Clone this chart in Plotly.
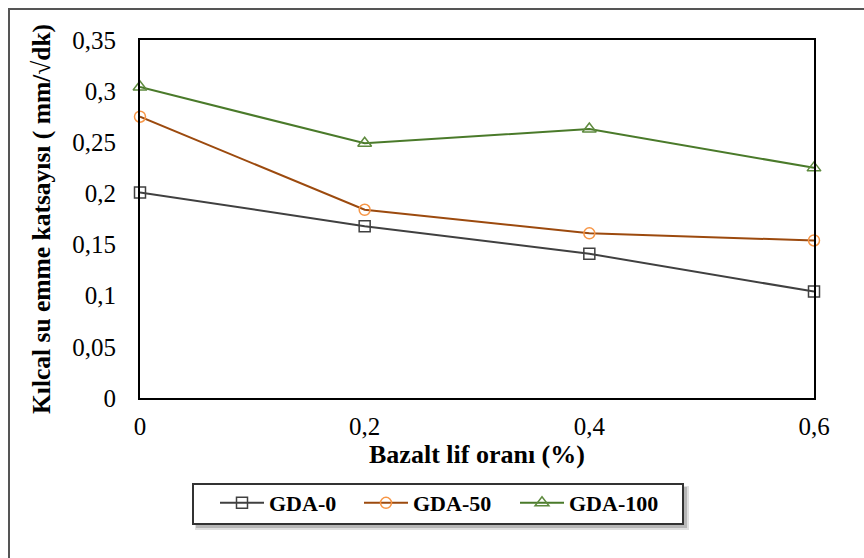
import plotly.graph_objects as go

fiber = [0, 0.2, 0.4, 0.6]
gda0 = [0.201, 0.168, 0.141, 0.104]
gda50 = [0.275, 0.184, 0.161, 0.154]
gda100 = [0.304, 0.249, 0.263, 0.225]

series = [
    ("GDA-0", gda0, "#404040", "#404040", "square-open", 11, "legend", 223),
    ("GDA-50", gda50, "#9C4A0E", "#F79646", "circle-open", 11, "legend2", 367),
    ("GDA-100", gda100, "#4A7A2A", "#5E8A3E", "triangle-up-open", 12, "legend3", 523),
]

W, H = 864, 558
L, R, T, B = 140, 50, 40, 160
pw, ph = W - L - R, H - T - B

def px(x):
    return (x - L) / pw

def py(y):
    return (H - B - y) / ph

fig = go.Figure()
legends = {}
for name, vals, lc, mc, sym, sz, lg, lx in series:
    fig.add_trace(go.Scatter(
        x=fiber, y=vals, name=name, mode="lines+markers",
        line=dict(color=lc, width=2),
        marker=dict(symbol=sym, size=sz, color=mc, line=dict(width=1.5, color=mc)),
        cliponaxis=False, legend=lg,
    ))
    legends[lg] = dict(
        orientation="h", x=px(lx - 8), xanchor="left", y=py(482), yanchor="top",
        borderwidth=0, bgcolor="rgba(0,0,0,0)",
        font=dict(size=22, family="Liberation Serif", weight="bold"),
        itemwidth=44,
    )

fig.update_layout(
    width=W, height=H,
    margin=dict(l=L, r=R, t=T, b=B),
    paper_bgcolor="white", plot_bgcolor="white",
    separators=",.",
    font=dict(family="Liberation Serif", color="black", size=22),
    showlegend=True,
    **legends,
    xaxis=dict(
        range=[0, 0.6], dtick=0.2, tick0=0, showgrid=False, zeroline=False,
        showline=True, mirror=True, linecolor="black", linewidth=2,
        ticks="", ticklabelstandoff=5,
        tickfont=dict(size=25),
        title=dict(text="Bazalt lif oranı (%)", font=dict(size=26, weight="bold"), standoff=3),
    ),
    yaxis=dict(
        range=[0, 0.35], dtick=0.05, tick0=0, showgrid=False, zeroline=False,
        showline=True, mirror=True, linecolor="black", linewidth=2,
        ticks="", ticklabelstandoff=17,
        tickfont=dict(size=25),
        title=dict(text="Kılcal su emme katsayısı ( mm/√dk)", font=dict(size=25.5, weight="bold"), standoff=14),
    ),
    shapes=[
        dict(type="rect", xref="paper", yref="paper",
             x0=px(9), x1=px(880), y0=py(575), y1=py(9),
             line=dict(color="#555555", width=2), fillcolor="rgba(0,0,0,0)", layer="below"),
        dict(type="rect", xref="paper", yref="paper",
             x0=px(195), x1=px(689), y0=py(530), y1=py(486),
             line=dict(width=0), fillcolor="rgba(0,0,0,0.12)", layer="above"),
        dict(type="rect", xref="paper", yref="paper",
             x0=px(196), x1=px(687), y0=py(528), y1=py(487),
             line=dict(width=0), fillcolor="rgba(0,0,0,0.18)", layer="above"),
        dict(type="rect", xref="paper", yref="paper",
             x0=px(193), x1=px(683), y0=py(524), y1=py(484),
             line=dict(color="#333333", width=2), fillcolor="white", layer="above"),
    ],
)

fig.write_html("out.html")
